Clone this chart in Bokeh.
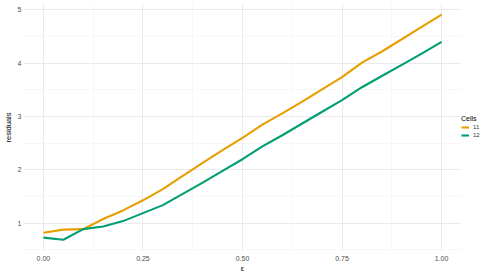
from bokeh.plotting import figure
from bokeh.models import Range1d, FixedTicker, NumeralTickFormatter, Legend, LegendItem
from bokeh.embed import file_html
from bokeh.resources import INLINE

eps = [0.00, 0.05, 0.10, 0.15, 0.20, 0.25, 0.30, 0.35, 0.40, 0.45, 0.50,
       0.55, 0.60, 0.65, 0.70, 0.75, 0.80, 0.85, 0.90, 0.95, 1.00]
cells_11 = [0.82, 0.88, 0.89, 1.08, 1.24, 1.43, 1.64, 1.89, 2.13, 2.37, 2.60,
            2.85, 3.06, 3.28, 3.51, 3.74, 4.01, 4.22, 4.45, 4.68, 4.91]
cells_12 = [0.73, 0.69, 0.89, 0.94, 1.04, 1.19, 1.34, 1.55, 1.76, 1.98, 2.20,
            2.44, 2.65, 2.87, 3.09, 3.31, 3.55, 3.76, 3.97, 4.18, 4.40]
x_ticks = [0.0, 0.25, 0.5, 0.75, 1.0]
x_minor = [0.125, 0.375, 0.625, 0.875]
y_ticks = [1, 2, 3, 4, 5]
y_minor = [0.5, 1.5, 2.5, 3.5, 4.5]
series_names = ["11", "12"]
colors = ["#E69F00", "#009E73"]

FONT = "Liberation Sans"

p = figure(frame_width=438, frame_height=248, output_backend="svg", toolbar_location=None,
           x_range=Range1d(-0.05, 1.05), y_range=Range1d(0.47, 5.12),
           min_border_left=0, min_border_right=0, min_border_top=3, min_border_bottom=0)
p.outline_line_color = None
p.background_fill_color = "white"
p.border_fill_color = "white"

r1 = p.line(eps, cells_11, line_color=colors[0], line_width=2.1)
r2 = p.line(eps, cells_12, line_color=colors[1], line_width=2.1)

p.xaxis.ticker = FixedTicker(ticks=x_ticks, minor_ticks=x_minor)
p.yaxis.ticker = FixedTicker(ticks=y_ticks, minor_ticks=y_minor)
p.xaxis.formatter = NumeralTickFormatter(format="0.00")

for ax in (p.xaxis, p.yaxis):
    ax.axis_line_color = None
    ax.major_tick_line_color = None
    ax.minor_tick_line_color = None
    ax.major_tick_out = 0
    ax.minor_tick_out = 0
    ax.major_label_text_font = FONT
    ax.major_label_text_font_size = "7px"
    ax.major_label_text_color = "#4D4D4D"
    ax.axis_label_text_font = FONT
    ax.axis_label_text_font_size = "7.5px"
    ax.axis_label_text_font_style = "normal"
    ax.axis_label_text_color = "black"
    ax.major_label_standoff = 2
    ax.axis_label_standoff = 2

p.xaxis.major_label_standoff = 4
p.xaxis.axis_label_standoff = 0

p.xaxis.axis_label = "ε"
p.yaxis.axis_label = "residuals"

for g in (p.xgrid, p.ygrid):
    g.grid_line_color = "#EBEBEB"
    g.grid_line_width = 1
    g.minor_grid_line_color = "#F3F3F3"
    g.minor_grid_line_width = 0.7

legend = Legend(items=[LegendItem(label=series_names[0], renderers=[r1]),
                       LegendItem(label=series_names[1], renderers=[r2])],
                location=(0, 113), title="Cells",
                title_text_font=FONT, title_text_font_size="7px", title_text_color="black",
                title_text_font_style="normal",
                title_standoff=2,
                label_text_font=FONT, label_text_font_size="6px", label_text_color="#333333",
                glyph_width=8, glyph_height=6, label_standoff=4, spacing=2,
                padding=3, margin=0, border_line_color=None, background_fill_alpha=0)
p.add_layout(legend, "right")

open("out.html", "w").write(file_html(p, INLINE))
